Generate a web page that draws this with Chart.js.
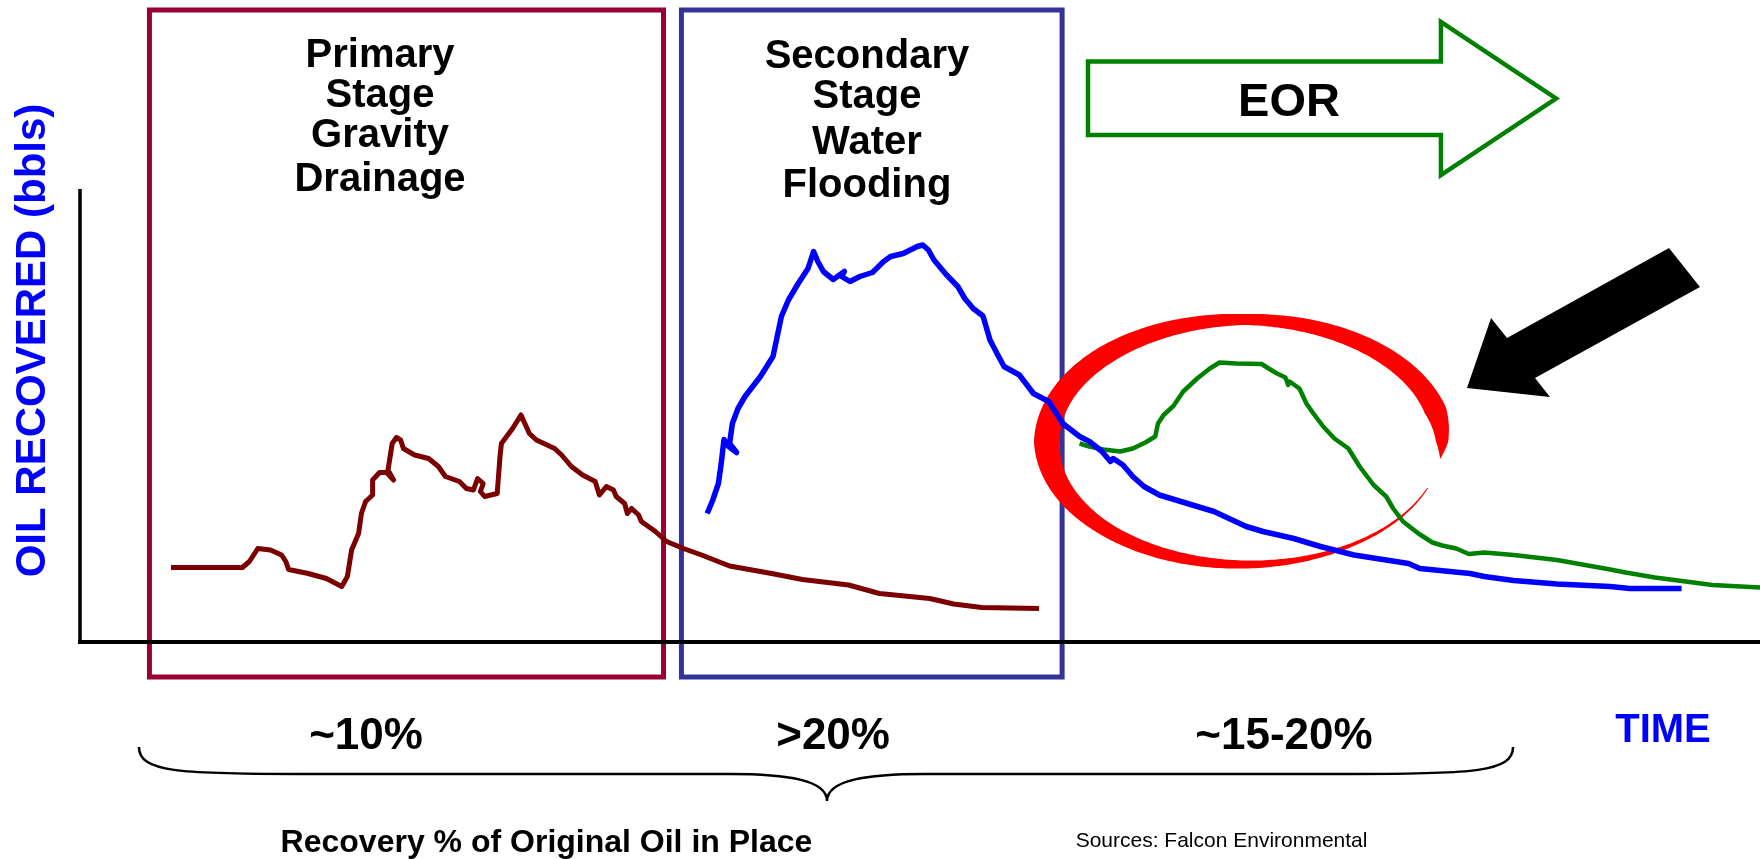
<!DOCTYPE html>
<html>
<head>
<meta charset="utf-8">
<title>Oil recovery stages</title>
<script src="https://cdn.jsdelivr.net/npm/chart.js@4.4.1/dist/chart.umd.min.js"></script>
<style>
  html, body { margin: 0; padding: 0; background: #fff; }
  canvas { display: block; }
</style>
</head>
<body>
<canvas id="recoveryChart" width="1760" height="859"></canvas>
<script>
'use strict';

// Production curves: time vs oil recovered (arbitrary units, no tick labels shown)
const primaryTime = [6.5, 11.6, 12.1, 12.7, 13.6, 14.4, 14.7, 14.9, 16.3, 17.6, 18.7, 19.1, 19.4, 19.9, 20.1, 20.4, 20.9, 20.9, 21.4, 21.9, 22.4, 22.0, 22.3, 22.6, 22.9, 23.1, 23.9, 24.9, 25.6, 26.1, 27.1, 27.6, 28.1, 28.4, 28.8, 28.6, 28.9, 29.8, 30.0, 30.1, 30.9, 31.5, 32.1, 32.6, 33.9, 34.4, 35.1, 35.9, 36.8, 37.1, 37.6, 38.1, 38.3, 38.9, 39.1, 39.4, 39.9, 40.1, 41.1, 41.9, 43.1, 44.4, 46.4, 49.4, 51.6, 54.9, 57.1, 60.7, 62.4, 64.4, 68.5];
const primaryOil = [14.9, 14.9, 16.1, 18.7, 18.4, 17.4, 16.1, 14.5, 13.7, 12.7, 11.1, 13.1, 18.4, 21.7, 25.7, 28.1, 29.4, 32.4, 33.9, 33.9, 32.4, 34.4, 39.7, 40.9, 40.4, 38.7, 37.4, 36.7, 35.1, 33.1, 32.1, 30.7, 30.4, 32.7, 31.7, 30.1, 29.1, 29.7, 37.1, 39.7, 42.7, 45.4, 41.7, 40.4, 38.7, 37.4, 35.1, 33.4, 32.1, 29.4, 31.1, 30.4, 29.1, 27.7, 25.7, 26.7, 25.4, 24.1, 22.1, 20.1, 18.7, 17.4, 15.2, 13.7, 12.5, 11.4, 9.7, 8.7, 7.6, 6.9, 6.7];

const secondaryTime = [44.8, 45.2, 45.6, 45.8, 46.0, 46.3, 46.9, 46.4, 46.6, 47.0, 47.5, 48.6, 49.5, 49.8, 50.1, 50.6, 51.3, 52.0, 52.4, 52.7, 53.1, 53.8, 54.6, 54.4, 55.0, 55.7, 56.6, 57.4, 57.9, 58.8, 59.8, 60.2, 60.6, 61.0, 61.9, 62.7, 63.2, 63.8, 64.5, 65.0, 65.5, 66.0, 67.1, 68.1, 69.2, 70.2, 71.4, 72.1, 73.0, 73.6, 73.8, 74.5, 75.2, 76.0, 77.1, 79.1, 81.0, 83.3, 84.5, 86.7, 88.6, 91.0, 94.9, 95.7, 99.3, 100.3, 102.4, 105.5, 109.3, 110.7, 114.4];
const secondaryOil = [25.7, 28.4, 31.7, 35.7, 40.5, 39.2, 37.9, 39.7, 43.7, 46.7, 49.1, 53.1, 57.1, 61.1, 65.1, 68.4, 71.7, 74.7, 78.1, 76.1, 74.1, 72.5, 74.1, 73.1, 72.1, 73.1, 73.9, 76.1, 77.1, 77.7, 79.1, 79.4, 78.4, 76.4, 73.4, 71.1, 68.7, 66.7, 65.2, 60.4, 57.7, 55.1, 53.4, 49.7, 48.1, 43.7, 41.1, 40.1, 38.1, 36.1, 36.7, 35.4, 33.1, 31.1, 29.4, 27.7, 26.1, 23.1, 22.1, 20.7, 19.1, 17.4, 15.7, 14.7, 13.7, 13.1, 12.3, 11.6, 11.1, 10.7, 10.7];

const eorTime = [71.4, 72.1, 73.1, 74.3, 75.2, 76.1, 76.8, 77.0, 77.4, 78.1, 78.8, 79.8, 80.7, 81.4, 82.6, 84.4, 84.9, 85.5, 86.1, 86.3, 86.4, 87.1, 87.6, 88.1, 88.8, 89.6, 90.6, 91.4, 92.4, 93.3, 93.8, 94.5, 95.6, 96.6, 97.3, 98.3, 99.2, 100.3, 102.4, 105.5, 109.3, 110.4, 112.5, 116.6, 120.0];
const eorOil = [39.7, 39.1, 38.5, 38.1, 38.7, 39.9, 41.1, 43.7, 45.4, 47.2, 50.1, 52.7, 54.7, 55.9, 55.7, 55.6, 54.7, 53.7, 52.9, 51.4, 52.1, 50.7, 47.7, 45.7, 43.1, 40.7, 38.7, 35.1, 31.4, 29.1, 26.7, 24.1, 21.7, 19.9, 19.3, 18.7, 17.6, 17.9, 17.4, 16.4, 14.5, 13.9, 12.9, 11.4, 10.9];

// Stage labels and recovery shares
const stageNames = [
  ['Primary', 'Stage', 'Gravity', 'Drainage'],
  ['Secondary', 'Stage', 'Water', 'Flooding'],
];
const recoveryShares = ['~10%', '>20%', '~15-20%'];

// Annotation geometry, in axis units
const stageBoxes = [
  { from: 4.96, to: 41.68, color: '#990033' },
  { from: 42.96, to: 70.15, color: '#333399' },
];
const BOX_TOP = 126.4, BOX_BOTTOM = -7.0;
const stageTextX = [21.43, 56.21];
const stageTextY = [[115.06, 107.06, 99.06, 90.2], [114.8, 106.8, 97.6, 89.0]];
const shareTextX = [20.43, 53.79, 86.0];
const SHARE_Y = -21.3;
const eorArrow = [[72.0, 116.1], [97.21, 116.1], [97.21, 124.0], [105.43, 108.7], [97.21, 93.4], [97.21, 101.4], [72.0, 101.4]];
const pointerArrow = [[99.07, 50.8], [100.79, 64.8], [101.93, 60.8], [113.5, 78.8], [115.71, 71.0], [103.93, 52.8], [105.0, 49.0]];
const ring = { x: 83.18, y: 40.0, rx: 14.11, ry: 24.5 };
const brace = { left: 4.21, right: 102.36, tip: 53.36, top: -21.0, mid: -26.4, bottom: -31.8 };

const FONT = '"Liberation Sans", Arial, Helvetica, sans-serif';

const zip = (xs, ys) => xs.map((x, i) => ({ x, y: ys[i] }));

function px(chart, x, y) {
  return [chart.scales.x.getPixelForValue(x), chart.scales.y.getPixelForValue(y)];
}

// Brush-like ring, thick on the left and open on the right
function drawRing(ctx, chart) {
  const [cx, cy] = px(chart, ring.x, ring.y);
  const rx = chart.scales.x.getPixelForValue(ring.x + ring.rx) - cx;
  const ry = cy - chart.scales.y.getPixelForValue(ring.y + ring.ry);
  const keys = [[22, 1], [60, 4], [90, 8], [135, 15], [180, 26], [225, 20], [270, 11], [315, 18], [345, 22], [360, 12], [368, 0]];
  const width = t => {
    for (let i = 1; i < keys.length; i++) {
      if (t <= keys[i][0]) {
        const [t0, w0] = keys[i - 1], [t1, w1] = keys[i];
        return w0 + (w1 - w0) * (t - t0) / (t1 - t0);
      }
    }
    return 0;
  };
  const outer = [], inner = [];
  for (let t = 22; t <= 368; t += 1) {
    const a = t * Math.PI / 180, h = width(t) / 2;
    outer.push([cx + (rx + h) * Math.cos(a), cy + (ry + h) * Math.sin(a)]);
    inner.push([cx + (rx - h) * Math.cos(a), cy + (ry - h) * Math.sin(a)]);
  }
  ctx.beginPath();
  outer.forEach(([x, y], i) => (i ? ctx.lineTo(x, y) : ctx.moveTo(x, y)));
  inner.reverse().forEach(([x, y]) => ctx.lineTo(x, y));
  ctx.closePath();
  ctx.fillStyle = '#FF0000';
  ctx.fill();
}

function polygon(ctx, chart, pts) {
  ctx.beginPath();
  pts.forEach(([x, y], i) => {
    const [X, Y] = px(chart, x, y);
    if (i) ctx.lineTo(X, Y); else ctx.moveTo(X, Y);
  });
  ctx.closePath();
}

const backdrop = {
  id: 'backdrop',
  beforeDatasetsDraw(chart) {
    const { ctx, chartArea: a } = chart;
    ctx.save();

    // stage boxes
    ctx.lineWidth = 5;
    stageBoxes.forEach(b => {
      const [x0, y0] = px(chart, b.from, BOX_TOP);
      const [x1, y1] = px(chart, b.to, BOX_BOTTOM);
      ctx.strokeStyle = b.color;
      ctx.strokeRect(x0, y0, x1 - x0, y1 - y0);
    });

    drawRing(ctx, chart);

    // axes
    ctx.strokeStyle = '#000';
    ctx.lineWidth = 3.5;
    ctx.beginPath();
    ctx.moveTo(a.left, a.top - 3);
    ctx.lineTo(a.left, a.bottom + 2);
    ctx.stroke();
    ctx.lineWidth = 4;
    ctx.beginPath();
    ctx.moveTo(a.left - 2, a.bottom);
    ctx.lineTo(a.right, a.bottom);
    ctx.stroke();
    ctx.restore();
  },
};

const overlay = {
  id: 'overlay',
  afterDatasetsDraw(chart) {
    const { ctx } = chart;
    ctx.save();
    ctx.fillStyle = '#000';
    ctx.textAlign = 'center';
    ctx.textBaseline = 'alphabetic';

    ctx.font = 'bold 40px ' + FONT;
    stageNames.forEach((lines, s) => {
      lines.forEach((txt, i) => {
        const [x, y] = px(chart, stageTextX[s], stageTextY[s][i]);
        ctx.fillText(txt, x, y);
      });
    });

    // EOR arrow
    polygon(ctx, chart, eorArrow);
    ctx.strokeStyle = '#008000';
    ctx.lineWidth = 4.5;
    ctx.lineJoin = 'miter';
    ctx.stroke();
    ctx.font = 'bold 47px ' + FONT;
    const [ex, ey] = px(chart, 86.36, 105.26);
    ctx.fillText('EOR', ex, ey);

    // pointer arrow
    polygon(ctx, chart, pointerArrow);
    ctx.fillStyle = '#000';
    ctx.fill();

    // recovery shares
    ctx.font = 'bold 44px ' + FONT;
    recoveryShares.forEach((txt, i) => {
      const [x, y] = px(chart, shareTextX[i], SHARE_Y);
      ctx.fillText(txt, x, y);
    });

    ctx.fillStyle = '#0000FF';
    ctx.font = 'bold 40px ' + FONT;
    const [tx, ty] = px(chart, 113.07, -19.94);
    ctx.fillText('TIME', tx, ty);

    // y axis title
    const [yx, yy] = px(chart, -2.5, 60.3);
    ctx.save();
    ctx.translate(yx, yy);
    ctx.rotate(-Math.PI / 2);
    ctx.font = 'bold 42px ' + FONT;
    ctx.fillText('OIL RECOVERED (bbls)', 0, 0);
    ctx.restore();

    // curly brace under the stages
    const [bl, bt] = px(chart, brace.left, brace.top);
    const [br] = px(chart, brace.right, brace.top);
    const [bm, bmid] = px(chart, brace.tip, brace.mid);
    const [, bb] = px(chart, brace.tip, brace.bottom);
    ctx.strokeStyle = '#000';
    ctx.lineWidth = 2.5;
    ctx.beginPath();
    ctx.moveTo(bl, bt);
    ctx.bezierCurveTo(bl, bmid - 2, bl + 40, bmid, bl + 160, bmid);
    ctx.lineTo(bm - 97, bmid);
    ctx.bezierCurveTo(bm - 40, bmid, bm, bmid + 6, bm, bb);
    ctx.bezierCurveTo(bm, bmid + 6, bm + 40, bmid, bm + 97, bmid);
    ctx.lineTo(br - 160, bmid);
    ctx.bezierCurveTo(br - 40, bmid, br, bmid - 2, br, bt);
    ctx.stroke();

    ctx.fillStyle = '#000';
    ctx.font = 'bold 32px ' + FONT;
    const [rx, ry] = px(chart, 33.32, -41.94);
    ctx.fillText('Recovery % of Original Oil in Place', rx, ry);

    ctx.font = '21px ' + FONT;
    const [sx, sy] = px(chart, 81.54, -40.94);
    ctx.fillText('Sources: Falcon Environmental', sx, sy);

    ctx.restore();
  },
};

new Chart(document.getElementById('recoveryChart'), {
  type: 'line',
  data: {
    datasets: [
      { label: 'Primary', data: zip(primaryTime, primaryOil), borderColor: '#7B0000', borderWidth: 5 },
      { label: 'Secondary', data: zip(secondaryTime, secondaryOil), borderColor: '#0000FF', borderWidth: 5.5 },
      { label: 'EOR', data: zip(eorTime, eorOil), borderColor: '#008000', borderWidth: 4.5 },
    ],
  },
  options: {
    responsive: false,
    animation: false,
    devicePixelRatio: 1,
    layout: { padding: { left: 80, right: 0, top: 192, bottom: 217 } },
    elements: {
      point: { radius: 0 },
      line: { tension: 0, borderJoinStyle: 'round', borderCapStyle: 'butt', fill: false },
    },
    datasets: { line: { clip: false } },
    scales: {
      x: { type: 'linear', min: 0, max: 120, display: false },
      y: { type: 'linear', min: 0, max: 90, display: false },
    },
    plugins: { legend: { display: false }, tooltip: { enabled: false } },
  },
  plugins: [backdrop, overlay],
});
</script>
</body>
</html>
